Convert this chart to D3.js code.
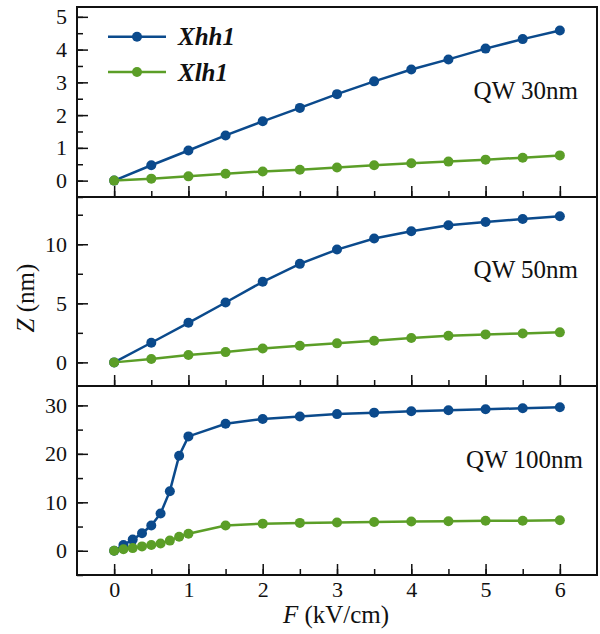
<!DOCTYPE html>
<html>
<head>
<meta charset="utf-8">
<script src="https://cdn.jsdelivr.net/npm/d3@7"></script>
<style>
  body { margin: 0; background: #fff; }
  text { font-family: "Liberation Serif", "DejaVu Serif", serif; fill: #111; }
</style>
</head>
<body>
<div id="chart"></div>
<script>
(function () {
	"use strict";

	// field values F (kV/cm)
	var fCoarse = [0, 0.5, 1, 1.5, 2, 2.5, 3, 3.5, 4, 4.5, 5, 5.5, 6];
	var fFine = [0, 0.125, 0.25, 0.375, 0.5, 0.625, 0.75, 0.875, 1, 1.5, 2, 2.5, 3, 3.5, 4, 4.5, 5, 5.5, 6];

	// QW 30nm
	var hh30 = [0, 0.47, 0.92, 1.38, 1.81, 2.22, 2.64, 3.03, 3.39, 3.70, 4.03, 4.32, 4.58];
	var lh30 = [0, 0.06, 0.13, 0.21, 0.28, 0.33, 0.40, 0.47, 0.53, 0.58, 0.64, 0.70, 0.77];
	// QW 50nm
	var hh50 = [0, 1.66, 3.35, 5.07, 6.82, 8.34, 9.55, 10.48, 11.10, 11.61, 11.89, 12.14, 12.37];
	var lh50 = [0, 0.28, 0.62, 0.87, 1.18, 1.41, 1.61, 1.83, 2.06, 2.25, 2.37, 2.45, 2.54];
	// QW 100nm
	var hh100 = [0, 1.2, 2.3, 3.6, 5.2, 7.7, 12.3, 19.6, 23.6, 26.2, 27.2, 27.7, 28.2, 28.5, 28.8, 29.0, 29.2, 29.4, 29.6];
	var lh100 = [0, 0.3, 0.55, 0.9, 1.2, 1.5, 2.1, 2.9, 3.5, 5.2, 5.6, 5.75, 5.85, 5.95, 6.05, 6.1, 6.2, 6.2, 6.3];

	var xTicks = [0, 1, 2, 3, 4, 5, 6];
	var seriesNames = ["Xhh1", "Xlh1"];
	var colors = ["#0b4a8c", "#5b9e27"];

	var panels = [
		{ label: "QW 30nm", f: fCoarse, hh: hh30, lh: lh30, domain: [-0.5, 5.3], ticks: [0, 1, 2, 3, 4, 5], step: 0.5, top: 7, bottom: 197 },
		{ label: "QW 50nm", f: fCoarse, hh: hh50, lh: lh50, domain: [-2, 14], ticks: [0, 5, 10], step: 2.5, top: 197, bottom: 386 },
		{ label: "QW 100nm", f: fFine, hh: hh100, lh: lh100, domain: [-5, 34], ticks: [0, 10, 20, 30], step: 5, top: 386, bottom: 575 }
	];

	var width = 600, height = 634;
	var left = 77, right = 597;

	var svg = d3.select("#chart").append("svg")
		.attr("width", width).attr("height", height);

	var x = d3.scaleLinear().domain([-0.5, 6.5]).range([left, right]);
	var xMinor = d3.range(0, 6.01, 0.5);

	panels.forEach(function (p, idx) {
		var y = d3.scaleLinear().domain(p.domain).range([p.bottom, p.top]);
		var g = svg.append("g");

		var yMinor = d3.range(Math.ceil(p.domain[0] / p.step) * p.step, p.domain[1], p.step);

		// minor ticks
		g.append("g").attr("transform", "translate(" + left + ",0)")
			.call(d3.axisLeft(y).tickValues(yMinor).tickSize(-6).tickSizeOuter(0).tickFormat(""));
		g.append("g").attr("transform", "translate(0," + p.bottom + ")")
			.call(d3.axisBottom(x).tickValues(xMinor).tickSize(-6).tickSizeOuter(0).tickFormat(""));

		// major ticks
		g.append("g").attr("class", "yax").attr("transform", "translate(" + left + ",0)")
			.call(d3.axisLeft(y).tickValues(p.ticks).tickSize(-11).tickSizeOuter(0).tickPadding(10).tickFormat(d3.format("d")));
		var xa = g.append("g").attr("class", "xax").attr("transform", "translate(0," + p.bottom + ")")
			.call(d3.axisBottom(x).tickValues(xTicks).tickSize(-11).tickSizeOuter(0)
				.tickFormat(idx === 2 ? d3.format("d") : ""));
		xa.selectAll(".tick text").attr("y", 22).attr("dy", 0);

		g.selectAll(".domain").remove();
		g.selectAll(".tick line").attr("stroke", "#111").attr("stroke-width", 1.5);
		g.selectAll(".tick text").style("font-size", "22px").style("font-family", "'Liberation Serif', serif").attr("fill", "#111");

		// frame
		g.append("rect")
			.attr("x", left).attr("y", p.top)
			.attr("width", right - left).attr("height", p.bottom - p.top)
			.attr("fill", "none").attr("stroke", "#111").attr("stroke-width", 2);

		var line = d3.line()
			.x(function (d) { return x(d[0]); })
			.y(function (d) { return y(d[1]); });

		[p.hh, p.lh].forEach(function (vals, si) {
			var pts = p.f.map(function (f, i) { return [f, vals[i]]; });
			g.append("path").datum(pts)
				.attr("d", line).attr("fill", "none")
				.attr("stroke", colors[si]).attr("stroke-width", 2.5);
			g.selectAll(null).data(pts).enter().append("circle")
				.attr("cx", function (d) { return x(d[0]); })
				.attr("cy", function (d) { return y(d[1]); })
				.attr("r", 5).attr("fill", colors[si]);
		});

		g.append("text")
			.attr("x", idx === 2 ? 583 : 578)
			.attr("y", [99, 278, 468][idx])
			.attr("text-anchor", "end")
			.style("font-size", "25px")
			.text(p.label);
	});

	// legend
	var legend = svg.append("g");
	seriesNames.forEach(function (name, i) {
		var ly = [36.7, 72][i];
		legend.append("line").attr("x1", 108).attr("x2", 166).attr("y1", ly).attr("y2", ly)
			.attr("stroke", colors[i]).attr("stroke-width", 2.5);
		legend.append("circle").attr("cx", 137).attr("cy", ly).attr("r", 5).attr("fill", colors[i]);
		legend.append("text").attr("x", 178).attr("y", ly + 8.5)
			.style("font-size", "25px").style("font-weight", "bold").style("font-style", "italic")
			.text(name);
	});

	// axis titles
	var xt = svg.append("text").attr("x", 336).attr("y", 623).attr("text-anchor", "middle").style("font-size", "25px");
	xt.append("tspan").style("font-style", "italic").text("F");
	xt.append("tspan").text(" (kV/cm)");

	var yt = svg.append("text").attr("transform", "translate(34,298) rotate(-90)")
		.attr("text-anchor", "middle").style("font-size", "25px");
	yt.append("tspan").style("font-style", "italic").text("Z");
	yt.append("tspan").text(" (nm)");

}).call(this);
</script>
</body>
</html>
